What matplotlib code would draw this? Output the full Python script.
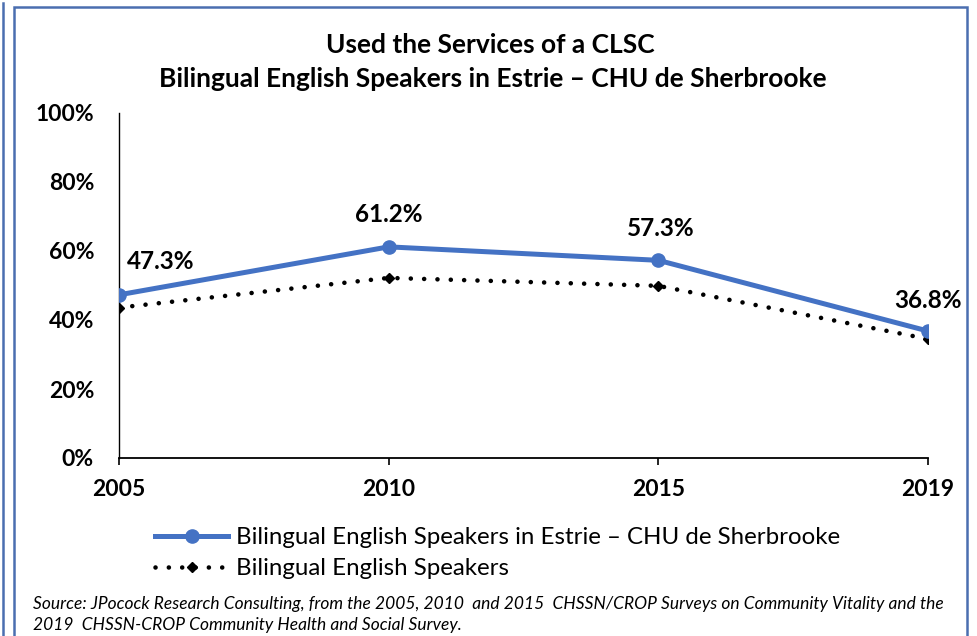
import matplotlib
matplotlib.use("Agg")
import matplotlib.pyplot as plt
from matplotlib.lines import Line2D
from matplotlib.patches import Rectangle

plt.rcParams['font.family'] = ['Lato', 'DejaVu Sans']

years = ["2005", "2010", "2015", "2019"]
estrie = [47.3, 61.2, 57.3, 36.8]
bilingual = [43.6, 52.2, 49.9, 34.5]
y_ticks = [0, 20, 40, 60, 80, 100]
y_tick_labels = ["0%", "20%", "40%", "60%", "80%", "100%"]
# label offsets in pixels (dx, dy)
label_offsets_px = [(42, 33), (0, 32), (2, 32), (0, 31)]

W, H = 977, 636
fig = plt.figure(figsize=(W / 100, H / 100), dpi=100)
ax = fig.add_axes([119 / W, (H - 458) / H, (928 - 119) / W, (458 - 113) / H])

x = list(range(len(years)))
blue = '#4472C4'
dot_style = (0, (0.01, 2.9))
ax.plot(x, bilingual, color='black', lw=3.3, linestyle=dot_style,
        dash_capstyle='round', marker='D', markersize=5.5, markerfacecolor='black',
        markeredgecolor='black', zorder=3)
ax.plot(x, estrie, color=blue, lw=3.6, marker='o', markersize=9.5,
        markerfacecolor=blue, markeredgecolor=blue, zorder=4)

for xi, v, (dx, dy) in zip(x, estrie, label_offsets_px):
    ax.annotate(f"{v:.1f}%", (xi, v), xytext=(dx * 0.72, dy * 0.72),
                textcoords='offset points', ha='center', va='center',
                fontsize=17.5, fontweight='bold')

ax.set_xlim(0, len(years) - 1)
ax.set_ylim(0, 100)
ax.set_yticks(y_ticks)
ax.set_yticklabels(y_tick_labels, fontsize=16.5, fontweight='bold')
ax.set_xticks(x)
ax.set_xticklabels(years, fontsize=16.5, fontweight='bold')
ax.tick_params(axis='y', length=0, pad=18)
ax.tick_params(axis='x', length=5, width=1.2, direction='out', pad=10)
for s in ['top', 'right']:
    ax.spines[s].set_visible(False)
ax.spines['left'].set_linewidth(1.0)
ax.spines['bottom'].set_linewidth(1.3)

fig.text(490 / W, 1 - 45 / H, "Used the Services of a CLSC", ha='center', va='center',
         fontsize=19, fontweight='bold')
fig.text(493 / W, 1 - 79 / H, "Bilingual English Speakers in Estrie \u2013 CHU de Sherbrooke",
         ha='center', va='center', fontsize=19, fontweight='bold')

h1 = Line2D([], [], color=blue, lw=3.6, marker='o', markersize=9.5)
h2 = Line2D([], [], color='black', lw=3.3, linestyle=dot_style,
            dash_capstyle='round', marker='D', markersize=5.5)
leg = fig.legend([h1, h2], ['Bilingual English Speakers in Estrie \u2013 CHU de Sherbrooke',
                            'Bilingual English Speakers'],
                 loc='upper left', bbox_to_anchor=(155 / W, 1 - 527 / H),
                 frameon=False, fontsize=17.3, handlelength=3.05, handletextpad=0.34,
                 labelspacing=0.42, borderaxespad=0, borderpad=0)

fig.text(33 / W, 1 - 604 / H,
         "Source: JPocock Research Consulting, from the 2005, 2010  and 2015  CHSSN/CROP Surveys on Community Vitality and the",
         ha='left', va='center', fontsize=12.5, style='italic')
fig.text(33 / W, 1 - 625 / H,
         "2019  CHSSN-CROP Community Health and Social Survey.",
         ha='left', va='center', fontsize=12.5, style='italic')

border = '#4a6eb0'
fig.patches.append(Rectangle((14 / W, -0.05), (967 - 14) / W, 1.05 - 7 / H,
                             transform=fig.transFigure, fill=False,
                             edgecolor=border, lw=1.8))
fig.lines.append(Line2D([3 / W, 3 / W], [0, 1 - 3 / H], transform=fig.transFigure,
                        color=border, lw=1.8))

fig.savefig("out.png", dpi=100)
